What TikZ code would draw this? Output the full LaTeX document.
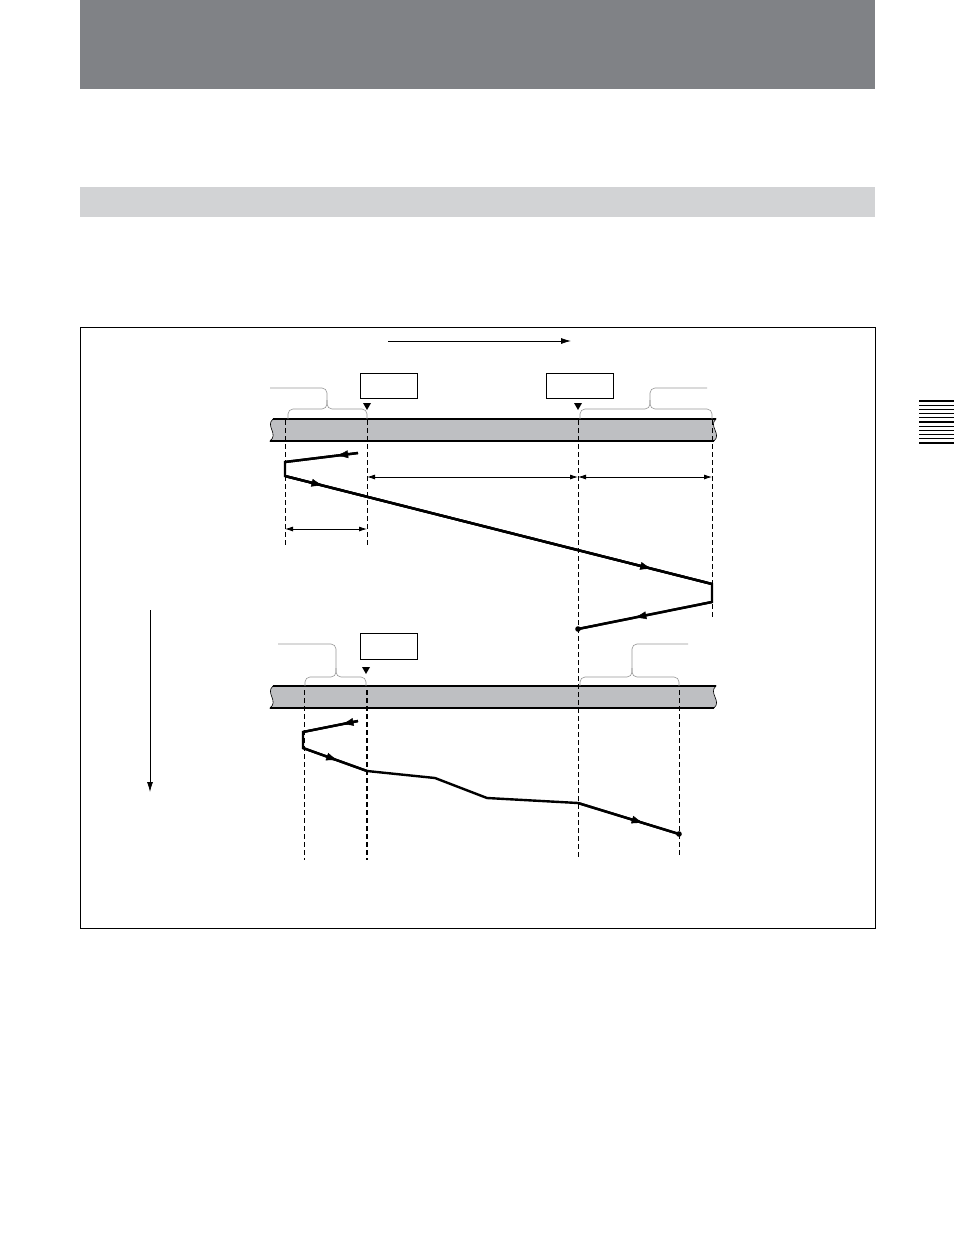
\documentclass[tikz,border=0pt]{standalone}
\usetikzlibrary{arrows.meta}
\usetikzlibrary{decorations.markings}
\definecolor{hd}{RGB}{128,130,134}
\definecolor{sb}{RGB}{210,211,213}
\definecolor{tp}{RGB}{190,191,194}
\definecolor{br}{RGB}{150,150,150}

\begin{document}
\begin{tikzpicture}[
    x=1pt, y=-1pt,
    box/.style={
        draw, line width=0.8pt, inner sep=0,
        minimum width=57pt, minimum height=25pt
    },
    tape/.style={
        fill=tp, draw, line width=0.6pt
    },
    rim/.style={line width=1.4pt},
    g/.style={
        line width=0.7pt, dash pattern=on 5pt off 3pt
    },
    gb/.style={g, line width=1.4pt},
    brace/.style={
        draw=br, line width=0.6pt, rounded corners=5pt
    },
    run/.style={line width=2.4pt, line join=miter},
    dim/.style={
        line width=0.8pt,
        {Latex[length=8pt,width=5pt]}-{Latex[length=8pt,width=5pt]}
    },
    m/.style={
        postaction={decorate},
        decoration={markings,
            mark=at position #1 with {\arrow[line width=0.4pt]{Latex[length=12pt,width=8pt]}}}
    }
]
    \useasboundingbox (0,0) rectangle (954,1244);

    % page furniture
    \fill[hd] (80,0) rectangle (875,89);
    \fill[sb] (80,187) rectangle (875,217);
    \draw[line width=0.8pt] (80,327) rectangle (875,928);
    \foreach \i in {0,...,10}
        \draw[line width=1.3pt] (919,401+4.2*\i) -- (954,401+4.2*\i);

    % direction arrows
    \coordinate (ds) at (388,341);
    \coordinate (de) at (571,341);
    \draw[line width=0.8pt, -{Latex[length=10pt,width=6pt]}] (ds) -- (de);
    \coordinate (vs) at (150,610);
    \coordinate (ve) at (150,792);
    \draw[line width=0.8pt, -{Latex[length=10pt,width=6pt]}] (vs) -- (ve);

    % tapes
    \foreach \yy in {419,686} {
        \filldraw[tape] (273,\yy) -- (716,\yy)
            .. controls (708,\yy+7) and (722,\yy+15) .. (714,\yy+22)
            -- (270,\yy+22)
            .. controls (279,\yy+15) and (265,\yy+7) .. cycle;
        \draw[rim] (273,\yy) -- (716,\yy);
        \draw[rim] (270,\yy+22) -- (714,\yy+22);
    }

    % boxes and marks
    \node[box] (inA) at (388.5,386) {};
    \node[box, minimum width=67pt] (outA) at (579.5,386) {};
    \node[box, minimum height=26pt] (inB) at (388.5,646) {};
    \fill (367,410) -- (363,403) -- (371,403) -- cycle;
    \fill (578,410) -- (574,403) -- (582,403) -- cycle;
    \fill (366,674) -- (362,667) -- (370,667) -- cycle;

    % braces
    \draw[brace] (270,388) -- (327,388) -- (327,409) -- (288,409) -- (288,419);
    \draw[brace] (327,400) -- (327,409) -- (367,409) -- (367,419);
    \draw[brace] (707,388) -- (650,388) -- (650,409) -- (712,409) -- (712,419);
    \draw[brace] (650,400) -- (650,409) -- (580,409) -- (580,419);
    \draw[brace] (278,644) -- (336,644) -- (336,677) -- (305,677) -- (305,686);
    \draw[brace] (336,668) -- (336,677) -- (366,677) -- (366,686);
    \draw[brace] (688,644) -- (632,644) -- (632,677) -- (679,677) -- (679,686);
    \draw[brace] (632,668) -- (632,677) -- (580,677) -- (580,686);

    % guide lines
    \coordinate (a1) at (285,420);  \coordinate (a1e) at (285,545);
    \coordinate (a2) at (367,420);  \coordinate (a2e) at (367,545);
    \coordinate (a3) at (578,420);  \coordinate (a3e) at (578,857);
    \coordinate (a4) at (712,420);  \coordinate (a4e) at (712,618);
    \coordinate (b1) at (304,690);  \coordinate (b1e) at (304,860);
    \coordinate (b2) at (367,690);  \coordinate (b2e) at (367,860);
    \coordinate (b4) at (679,690);  \coordinate (b4e) at (679,857);
    \foreach \s in {a1,a2,a3,a4,b1,b4}
        \draw[g] (\s) -- (\s e);
    \draw[gb] (b2) -- (b2e);

    % spans
    \coordinate (d1) at (367,477);
    \coordinate (d2) at (578,477);
    \coordinate (d3) at (712,477);
    \coordinate (d4) at (285,529);
    \coordinate (d5) at (367,529);
    \draw[dim] (d1) -- (d2);
    \draw[dim] (d2) -- (d3);
    \draw[dim] (d4) -- (d5);

    % first pass
    \coordinate (p1) at (358,453);
    \coordinate (p2) at (285,462);
    \coordinate (p3) at (285,476);
    \coordinate (p4) at (712,584);
    \coordinate (p5) at (712,602);
    \coordinate (p6) at (578,629);
    \draw[run] (p1) -- (p2) -- (p3) -- (p4) -- (p5) -- (p6);
    \draw[run, m=0.3] (p1) -- (p2);
    \draw[run, m=0.09] (p3) -- (p4);
    \draw[run, m=0.86] (p3) -- (p4);
    \draw[run, m=0.58] (p5) -- (p6);
    \fill (p6) circle (2.8);

    % second pass
    \coordinate (q1) at (358,721);
    \coordinate (q2) at (303,732);
    \coordinate (q3) at (303,748);
    \coordinate (q4) at (367,771);
    \coordinate (q5) at (435,778);
    \coordinate (q6) at (487,798);
    \coordinate (q7) at (578,803);
    \coordinate (q8) at (679,834);
    \draw[run] (q1) -- (q2) -- (q3) -- (q4) -- (q5) -- (q6) -- (q7) -- (q8);
    \draw[run, m=0.3] (q1) -- (q2);
    \draw[run, m=0.55] (q3) -- (q4);
    \draw[run, m=0.65] (q7) -- (q8);
    \fill (q8) circle (2.8);

\end{tikzpicture}
\end{document}
